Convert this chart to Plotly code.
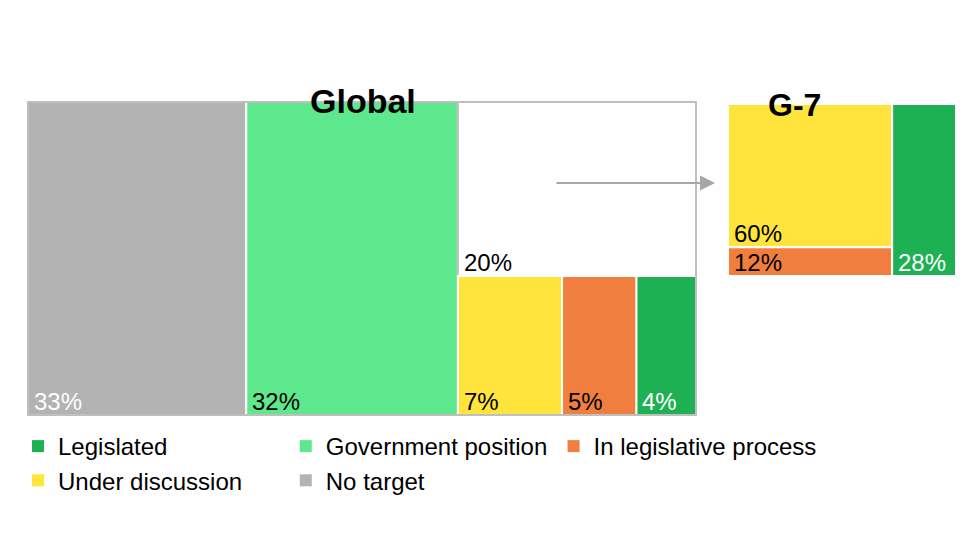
import plotly.graph_objects as go

# Data
categories = ["Legislated", "Government position", "In legislative process", "Under discussion", "No target"]
colors = {"Legislated": "#1db154", "Government position": "#5ee88d", "In legislative process": "#f07f3f",
          "Under discussion": "#ffe53b", "No target": "#b3b3b3"}
global_no_target = 33
global_gov = 32
global_other = 20   # G-7-like split shown in white box
global_split = {"Under discussion": 7, "In legislative process": 5, "Legislated": 4}
g7_vals = {"Under discussion": 60, "In legislative process": 12, "Legislated": 28}

fig = go.Figure()
cells = []  # (axis suffix, category or None, x0, x1, y0, y1, label, label colour)

tot = global_no_target + global_gov + global_other + sum(global_split.values())
x = 0
w = global_no_target / tot
cells.append(("", "No target", x, x + w, 0, 1, f"{global_no_target}%", "white")); x += w
w = global_gov / tot
cells.append(("", "Government position", x, x + w, 0, 1, f"{global_gov}%", "black")); x += w
rest = global_other + sum(global_split.values())
hb = sum(global_split.values()) / rest
cells.append(("", None, x, 1, hb, 1, f"{global_other}%", "black"))
xs = x
for k, v in global_split.items():
    ww = (1 - x) * v / sum(global_split.values())
    cells.append(("", k, xs, xs + ww, 0, hb, f"{v}%", "white" if k == "Legislated" else "black"))
    xs += ww

cw = (g7_vals["Under discussion"] + g7_vals["In legislative process"]) / 100
ho = g7_vals["In legislative process"] / (cw * 100)
cells.append(("2", "Under discussion", 0, cw, ho, 1, f"{g7_vals['Under discussion']}%", "black"))
cells.append(("2", "In legislative process", 0, cw, 0, ho, f"{g7_vals['In legislative process']}%", "black"))
cells.append(("2", "Legislated", cw, 1, 0, 1, f"{g7_vals['Legislated']}%", "white"))

for ax, cat, x0, x1, y0, y1, lab, lc in cells:
    fig.add_trace(go.Bar(x=[(x0 + x1) / 2], y=[y1 - y0], base=[y0], width=[x1 - x0],
                         xaxis="x" + ax, yaxis="y" + ax,
                         marker=dict(color=colors[cat] if cat else "white",
                                     line=dict(color="#bfbfbf" if cat is None else "white", width=2)),
                         showlegend=False, hoverinfo="skip"))
    fig.add_annotation(x=x0, y=y0, xref="x" + ax, yref="y" + ax, text=lab, showarrow=False,
                       xanchor="left", yanchor="bottom", xshift=4, yshift=-2,
                       font=dict(size=24, color=lc))

for cat in categories:
    fig.add_trace(go.Scatter(x=[None], y=[None], mode="markers", name=cat,
                             marker=dict(symbol="square", size=12, color=colors[cat])))

fig.add_shape(type="rect", xref="x domain", yref="y domain", x0=0, x1=1, y0=0, y1=1,
              line=dict(color="#bfbfbf", width=2))

fig.add_annotation(x=707 / 968, y=1 - 175 / 544, ax=-160, ay=0,
                   xref="paper", yref="paper", axref="pixel", ayref="pixel",
                   showarrow=True, arrowhead=2, arrowsize=1.5, arrowwidth=2, arrowcolor="#a6a6a6", text="")
fig.add_annotation(x=355 / 968, y=1 - 72 / 544, xref="paper", yref="paper", text="<b>Global</b>",
                   showarrow=False, font=dict(size=34, color="black"))
fig.add_annotation(x=815 / 968, y=1 - 77 / 544, xref="paper", yref="paper", text="<b>G-7</b>",
                   showarrow=False, font=dict(size=32, color="black"))

ax_style = dict(range=[0, 1], showgrid=False, zeroline=False, showticklabels=False, ticks="", fixedrange=True)
fig.update_layout(
    width=968, height=544, margin=dict(l=0, r=0, t=0, b=0),
    paper_bgcolor="white", plot_bgcolor="white", barmode="overlay",
    font=dict(family="Liberation Sans, Arial, sans-serif", color="black"),
    xaxis=dict(domain=[20 / 968, 688 / 968], **ax_style),
    yaxis=dict(domain=[1 - 407 / 544, 1 - 94 / 544], **ax_style),
    xaxis2=dict(domain=[720 / 968, 948 / 968], anchor="y2", **ax_style),
    yaxis2=dict(domain=[1 - 268 / 544, 1 - 96 / 544], anchor="x2", **ax_style),
    legend=dict(orientation="h", x=10 / 968, y=1 - 416 / 544, xanchor="left", yanchor="top",
                font=dict(size=24), itemwidth=30, tracegroupgap=0, bgcolor="rgba(0,0,0,0)"),
)
fig.write_html("out.html")
